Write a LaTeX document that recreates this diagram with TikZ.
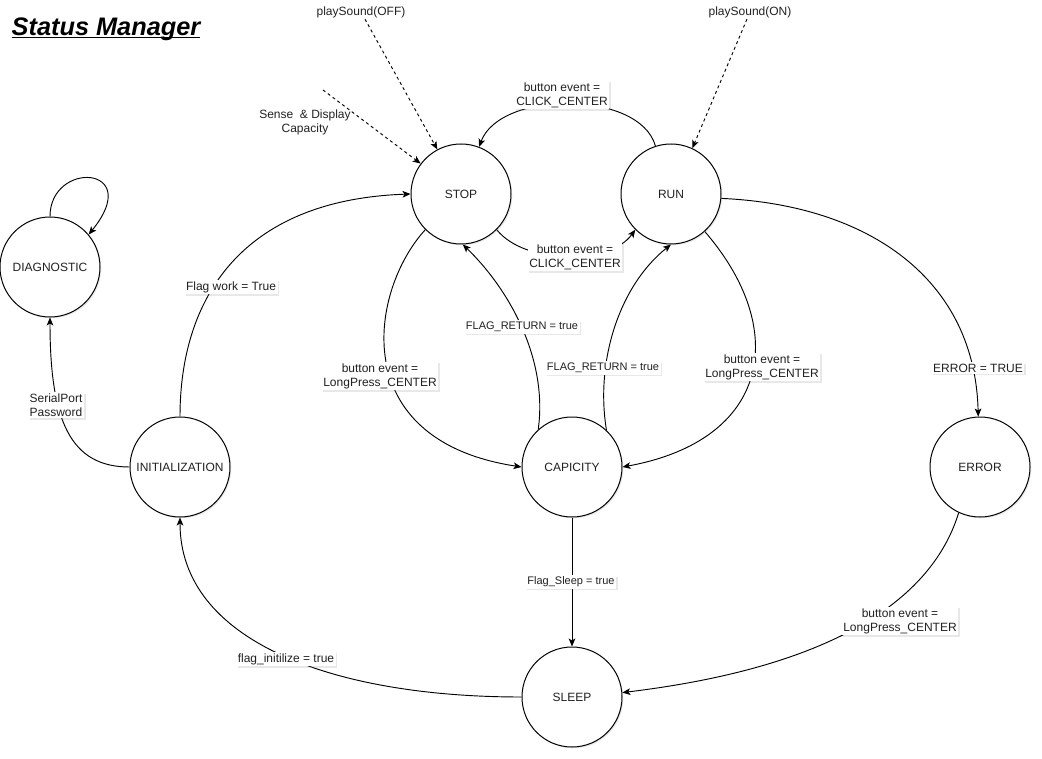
\documentclass[tikz,border=0pt]{standalone}
\usepackage{fontspec}
\setmainfont{Liberation Sans}
\usetikzlibrary{arrows.meta, backgrounds, shadows}
\definecolor{inkcol}{rgb}{0.13, 0.13, 0.13}
\tikzset{
  state/.style={circle, draw, fill=white, minimum size=75pt, inner sep=0pt,
                line width=0.75pt, text=inkcol,
                font=\fontsize{9}{10.5}\selectfont,
                drop shadow={shadow xshift=1pt, shadow yshift=-1pt, opacity=0.18}},
  lbl/.style={fill=white, inner sep=1.2pt, align=center, text=inkcol,
              font=\fontsize{9}{10.5}\selectfont,
              drop shadow={shadow xshift=1.2pt, shadow yshift=-1.2pt, opacity=0.18}},
  small lbl/.style={lbl, font=\fontsize{8.25}{9.5}\selectfont},
  note/.style={align=center, text=inkcol, inner sep=1pt,
               font=\fontsize{9}{10.5}\selectfont},
  title/.style={text=black, font=\fontsize{19}{22}\selectfont\bfseries\itshape},
  arr/.style={-{Stealth[length=6pt, width=5pt, inset=1.5pt]}, line width=0.7pt, black},
  hint arr/.style={arr, dash pattern=on 2.25pt off 2.25pt},
}

\begin{document}
\begin{tikzpicture}[x=0.75pt, y=0.75pt]
    \useasboundingbox (0,0) rectangle (1042,-759);

    \node[title] (ttl) at (106,-37) {\underline{\smash{Status Manager}}};

    % states
    \node[state] (diag) at (50,-267) {DIAGNOSTIC};
    \node[state] (init) at (180,-467) {INITIALIZATION};
    \node[state] (stop) at (461,-194) {STOP};
    \node[state] (run) at (671,-194) {RUN};
    \node[state] (cap) at (572,-467) {CAPICITY};
    \node[state] (err) at (980,-467) {ERROR};
    \node[state] (sleep) at (572,-697) {SLEEP};

    % outside hints
    \node[note] (playOff) at (361,-12) {playSound(OFF)};
    \node[note] (playOn) at (750,-12) {playSound(ON)};
    \node[note] (sense) at (305,-122) {Sense ~\& Display\\Capacity};
    \coordinate (senseIn) at (323,-90);

    % transition labels
    \node[lbl, align=left] (lSerial) at (56,-405) {SerialPort\\Password};
    \node[lbl] (lWork) at (231,-287) {Flag work = True};
    \node[lbl] (lInit) at (286,-659) {flag\_initilize = true};
    \node[small lbl] (lSleep) at (571,-582) {Flag\_Sleep = true};
    \node[lbl] (lErrLong) at (900,-621) {button event =\\LongPress\_CENTER};
    \node[lbl] (lError) at (978,-368) {ERROR = TRUE};
    \node[lbl] (lRunLong) at (762,-367) {button event =\\LongPress\_CENTER};
    \node[lbl] (lStopLong) at (380,-376) {button event =\\LongPress\_CENTER};
    \node[small lbl] (lRetStop) at (522,-327) {FLAG\_RETURN = true};
    \node[small lbl] (lRetRun) at (603,-368) {FLAG\_RETURN = true};
    \node[lbl] (lClick) at (575,-257) {button event =\\CLICK\_CENTER};
    \node[lbl] (lClickTop) at (562,-95) {button event =\\CLICK\_CENTER};

    % transitions
    \begin{scope}[on background layer]
    \draw[arr] (diag.north) .. controls (50,-160) and (145,-165) .. (diag.40);
    \draw[arr] (init.west) .. controls (70,-467) and (50,-420) .. (diag.south);
    \draw[arr] (init.north) .. controls (180,-300) and (240,-200) .. (stop.west);
    \draw[arr] (sleep.west) .. controls (330,-697) and (180,-640) .. (init.south);
    \draw[arr] (cap.south) -- (sleep.north);
    \draw[arr] (err.245) .. controls (935,-590) and (850,-665) .. (sleep.5);
    \draw[arr] (run.-5) .. controls (870,-205) and (975,-280) .. (err.92);
    \draw[arr] (run.-48) .. controls (790,-330) and (770,-440) .. (cap.east);
    \draw[arr] (stop.225) .. controls (370,-290) and (345,-440) .. (cap.west);
    \draw[arr] (cap.132) .. controls (548,-360) and (510,-290) .. (stop.-88);
    \draw[arr] (cap.47) .. controls (595,-360) and (620,-285) .. (run.-90);
    \draw[arr] (stop.-45) .. controls (525,-265) and (610,-265) .. (run.225);
    \draw[arr] (run.108) .. controls (640,-90) and (500,-90) .. (stop.69);
    \draw[hint arr] (playOff) -- (stop.118);
    \draw[hint arr] (playOn) -- (run.65);
    \draw[hint arr] (senseIn) -- (stop.143);
    \end{scope}
\end{tikzpicture}
\end{document}
